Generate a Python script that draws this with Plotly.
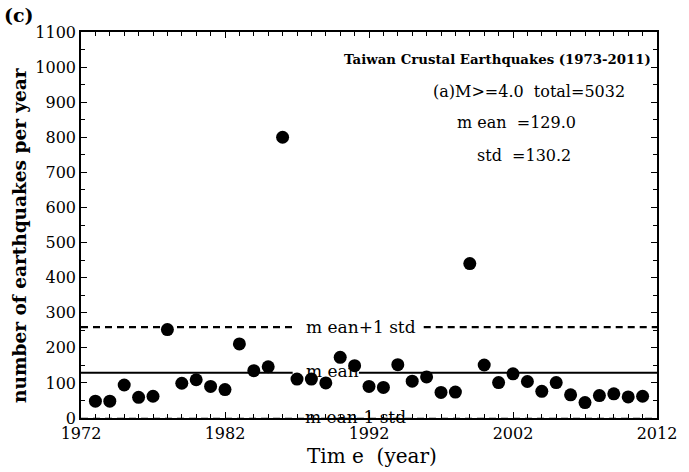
import plotly.graph_objects as go

years = list(range(1973, 2012))
counts = [48, 48, 94, 59, 62, 252, 99, 109, 90, 81,
          211, 135, 146, 800, 111, 111, 100, 173, 149, 90,
          87, 152, 105, 117, 73, 74, 440, 151, 101, 126,
          104, 76, 101, 66, 44, 64, 69, 60, 62]
mean_val = 129.0
std_val = 130.2
x_ticks = [1972, 1982, 1992, 2002, 2012]
y_ticks = list(range(0, 1101, 100))

FONT = "DejaVu Serif"
W, H = 689, 472
L, R, T, B = 81, 23, 32, 54
pw, ph = W - L - R, H - T - B


def px(xp):
    return (xp - L) / pw


def py(yp):
    return (H - B - yp) / ph


fig = go.Figure()

# reference lines (with gaps where their labels sit)
up = mean_val + std_val
lo = mean_val - std_val
fig.add_trace(go.Scatter(x=[1972, 1986.7, None, 1991.3, 2012],
                         y=[mean_val, mean_val, None, mean_val, mean_val],
                         mode="lines", line=dict(color="black", width=2.2),
                         showlegend=False, hoverinfo="skip"))
fig.add_trace(go.Scatter(x=[1972, 1986.7, None, 1995.8, 2012],
                         y=[up, up, None, up, up],
                         mode="lines", line=dict(color="black", width=2.2, dash="7px,5px"),
                         showlegend=False, hoverinfo="skip"))
fig.add_trace(go.Scatter(x=[1972, 2012], y=[lo, lo],
                         mode="lines", line=dict(color="black", width=1.5, dash="7px,5px"),
                         showlegend=False, hoverinfo="skip"))

fig.add_trace(go.Scatter(x=years, y=counts, mode="markers",
                         marker=dict(size=13, color="black"),
                         showlegend=False, cliponaxis=False))

lab_font = dict(family=FONT, size=17, color="black")
fig.add_annotation(x=1987.5, y=up, xref="x", yref="y",
                   text="m ean+1 std", showarrow=False, xanchor="left", yanchor="middle",
                   font=lab_font)
fig.add_annotation(x=1987.5, y=mean_val + 6, xref="x", yref="y",
                   text="m ean", showarrow=False, xanchor="left", yanchor="middle",
                   font=lab_font)
fig.add_annotation(x=px(306), y=py(417), xref="paper", yref="paper",
                   text="m ean-1 std", showarrow=False, xanchor="left", yanchor="middle",
                   font=lab_font)

fig.update_layout(
    width=W, height=H,
    margin=dict(l=L, r=R, t=T, b=B),
    plot_bgcolor="white", paper_bgcolor="white",
    font=dict(family=FONT, color="black"),
    xaxis=dict(range=[1972, 2012], tickvals=x_ticks, ticks="inside", ticklen=6,
               tickwidth=1, tickcolor="black", showline=True, linecolor="black",
               linewidth=1.5, mirror="ticks", showgrid=False, zeroline=False,
               tickfont=dict(family=FONT, size=16, color="black"),
               minor=dict(dtick=1, ticks="inside", ticklen=4, tickcolor="black", showgrid=False)),
    yaxis=dict(range=[0, 1100], tickvals=y_ticks, ticks="inside", ticklen=6,
               tickwidth=1, tickcolor="black", showline=True, linecolor="black",
               linewidth=1.5, mirror="ticks", showgrid=False, zeroline=False,
               tickfont=dict(family=FONT, size=16, color="black"),
               minor=dict(dtick=50, ticks="inside", ticklen=4, tickcolor="black", showgrid=False)),
)

fig.add_annotation(x=px(662), y=py(59), xref="paper", yref="paper",
                   text="<b>Taiwan Crustal Earthquakes (1973-2011)</b>",
                   showarrow=False, xanchor="right", yanchor="middle",
                   font=dict(family=FONT, size=13.3, color="black"))

txt_font = dict(family=FONT, size=16, color="black")
fig.add_annotation(x=px(536), y=py(91), xref="paper", yref="paper",
                   text="(a)M>=4.0  total=5032", showarrow=False,
                   xanchor="center", yanchor="middle", font=txt_font)
fig.add_annotation(x=px(523), y=py(123), xref="paper", yref="paper",
                   text="m ean  =129.0", showarrow=False,
                   xanchor="center", yanchor="middle", font=txt_font)
fig.add_annotation(x=px(531), y=py(155), xref="paper", yref="paper",
                   text="std  =130.2", showarrow=False,
                   xanchor="center", yanchor="middle", font=txt_font)

# titles
fig.add_annotation(x=px(377), y=py(456), xref="paper", yref="paper",
                   text="Tim e  (year)", showarrow=False,
                   xanchor="center", yanchor="middle",
                   font=dict(family=FONT, size=20, color="black"))
fig.add_annotation(x=px(18), y=py(235), xref="paper", yref="paper",
                   text="<b>number of earthquakes per year</b>", showarrow=False, textangle=-90,
                   xanchor="center", yanchor="middle",
                   font=dict(family=FONT, size=18.5, color="black"))
fig.add_annotation(x=px(18), y=py(15), xref="paper", yref="paper",
                   text="<b>(c)</b>", showarrow=False,
                   xanchor="center", yanchor="middle",
                   font=dict(family=FONT, size=19, color="black"))

fig.write_html("out.html")
